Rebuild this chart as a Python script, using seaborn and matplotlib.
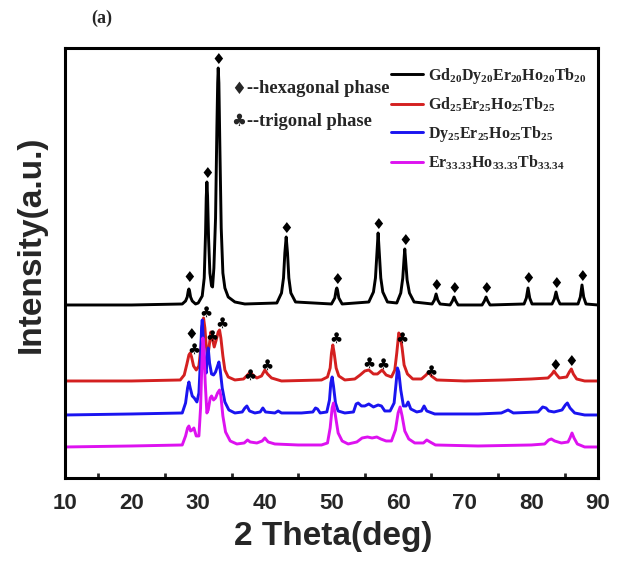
import pandas as pd
import matplotlib
matplotlib.use('Agg')
import matplotlib.pyplot as plt
import seaborn as sns

sns.set_style('white')
plt.rcParams['font.family'] = ['Liberation Sans', 'DejaVu Sans']
plt.rcParams['mathtext.fontset'] = 'custom'
plt.rcParams['mathtext.rm'] = 'Liberation Serif'
plt.rcParams['mathtext.bf'] = 'Liberation Serif:bold'

# XRD patterns: (2theta deg, intensity a.u. with stacking offset)
black_pts = [(10, 173), (20, 173), (27.6, 174), (28.1, 177), (28.35, 181), (28.5, 187), (28.6, 189),
             (28.7, 187), (28.85, 181), (29.1, 177), (29.6, 174), (30.0, 175), (30.6, 182), (30.9, 200),
             (31.1, 245), (31.2, 280), (31.3, 296), (31.4, 282), (31.55, 240), (31.75, 205), (32.0, 192),
             (32.15, 191), (32.35, 210), (32.6, 260), (32.8, 350), (32.92, 395), (33.0, 410), (33.1, 395),
             (33.25, 330), (33.45, 250), (33.7, 205), (34.0, 190), (34.5, 181), (35.5, 176), (37, 174),
             (41.8, 175), (42.5, 185), (42.8, 200), (43.0, 225), (43.2, 241), (43.4, 225), (43.6, 200),
             (43.9, 185), (44.6, 176), (50.0, 174), (50.5, 180), (50.7, 188), (50.8, 190), (50.9, 188),
             (51.1, 180), (51.6, 174), (55.6, 176), (56.3, 186), (56.6, 200), (56.85, 228), (57.0, 245),
             (57.15, 228), (57.4, 200), (57.7, 186), (58.4, 176), (59.8, 175), (60.4, 185), (60.7, 200),
             (60.9, 220), (61.0, 229), (61.1, 220), (61.35, 198), (61.7, 185), (62.4, 176), (65.1, 174),
             (65.45, 178), (65.7, 184), (65.95, 178), (66.3, 174), (67.8, 173), (68.15, 177), (68.4, 181),
             (68.65, 177), (69.0, 173), (72.6, 173), (72.95, 177), (73.2, 181), (73.45, 177), (73.8, 173),
             (78.9, 174), (79.25, 180), (79.5, 190), (79.75, 180), (80.1, 174), (83.1, 174), (83.45, 179),
             (83.7, 186), (83.95, 179), (84.3, 174), (87.0, 174), (87.35, 181), (87.6, 193), (87.85, 181),
             (88.2, 174), (90, 173)]

red_pts = [(10, 97), (20, 97), (27.3, 98), (27.9, 103), (28.3, 114), (28.6, 123), (28.8, 125), (29.0, 121),
           (29.3, 112), (29.7, 108), (30.1, 112), (30.4, 130), (30.6, 152), (30.8, 160), (31.0, 150),
           (31.2, 132), (31.45, 122), (31.7, 135), (31.9, 146), (32.1, 140), (32.4, 131), (32.7, 138),
           (33.0, 146), (33.2, 148), (33.4, 140), (33.7, 122), (34.0, 108), (34.5, 101), (35.5, 98),
           (36.8, 99), (37.4, 103), (37.8, 106), (38.2, 103), (38.8, 100), (39.5, 102), (40.0, 108),
           (40.4, 104), (41.0, 100), (42.5, 97), (48.5, 98), (49.4, 101), (49.8, 110), (50.0, 125),
           (50.2, 133), (50.4, 125), (50.7, 110), (51.1, 102), (52.0, 98), (53.5, 99), (54.3, 103),
           (55.0, 107), (55.6, 108), (56.3, 104), (56.9, 104), (57.6, 108), (58.2, 103), (59.0, 101),
           (59.5, 108), (59.8, 125), (60.1, 145), (60.3, 143), (60.6, 130), (60.9, 113), (61.4, 104),
           (62.2, 99), (63.5, 99), (64.2, 103), (64.6, 106), (65.0, 102), (65.8, 98), (70, 97), (76, 98),
           (80, 99), (82.5, 100), (83.1, 104), (83.4, 107), (83.7, 104), (84.2, 100), (85.3, 101),
           (85.7, 106), (86.0, 109), (86.3, 104), (86.8, 99), (88, 97), (90, 97)]

blue_pts = [(10, 63), (20, 64), (27.6, 65), (28.1, 75), (28.4, 90), (28.6, 96), (28.8, 90), (29.1, 82),
            (29.4, 80), (29.8, 76), (30.1, 85), (30.35, 120), (30.5, 150), (30.6, 158), (30.75, 140),
            (31.0, 110), (31.2, 105), (31.4, 125), (31.5, 130), (31.7, 115), (32.0, 104), (32.3, 103),
            (32.6, 106), (32.9, 112), (33.1, 116), (33.3, 108), (33.6, 90), (34.0, 76), (34.6, 68),
            (35.5, 65), (36.6, 66), (37.0, 70), (37.3, 72), (37.7, 67), (38.5, 65), (39.3, 66), (39.7, 70),
            (40.1, 66), (41.5, 65), (42.0, 67), (42.5, 65), (45.5, 65), (47.2, 66), (47.6, 70), (47.9, 69),
            (48.3, 65), (49.3, 66), (49.7, 78), (49.9, 95), (50.1, 101), (50.3, 92), (50.6, 75), (51.0, 67),
            (52.0, 65), (53.3, 66), (53.7, 74), (54.0, 75), (54.5, 72), (55.0, 72), (55.6, 74), (56.3, 71),
            (57.0, 73), (57.5, 72), (58.0, 67), (58.8, 67), (59.4, 75), (59.7, 95), (59.9, 110), (60.1, 106),
            (60.4, 88), (60.8, 72), (61.2, 72), (61.5, 76), (61.9, 69), (62.8, 66), (63.5, 67), (63.9, 72),
            (64.3, 67), (65.5, 64), (72, 64), (75.5, 65), (76.5, 68), (77.3, 65), (81.0, 66), (81.7, 71),
            (82.2, 70), (82.6, 67), (83.4, 66), (84.6, 68), (85.1, 73), (85.4, 75), (85.8, 70), (86.5, 65),
            (88, 63), (90, 63)]

magenta_pts = [(10, 31), (20, 32), (27.6, 33), (28.1, 42), (28.4, 50), (28.6, 52), (28.85, 47), (29.1, 48),
               (29.35, 50), (29.7, 42), (30.1, 42), (30.35, 70), (30.55, 115), (30.7, 140), (30.85, 130),
               (31.05, 95), (31.3, 65), (31.5, 68), (31.8, 80), (32.0, 82), (32.3, 78), (32.6, 80),
               (32.9, 85), (33.2, 88), (33.4, 82), (33.7, 62), (34.1, 46), (34.8, 37), (35.8, 34), (36.9, 35),
               (37.4, 38), (37.8, 36), (38.8, 35), (39.6, 37), (40.0, 40), (40.5, 36), (41.5, 34), (45, 33),
               (48.5, 33), (49.4, 35), (49.8, 50), (50.1, 70), (50.3, 75), (50.6, 62), (51.0, 45), (51.6, 37),
               (52.5, 34), (53.8, 36), (54.6, 40), (55.4, 41), (56.1, 40), (56.8, 41), (57.4, 39), (58.2, 37),
               (59.0, 37), (59.6, 48), (60.0, 65), (60.3, 71), (60.6, 62), (61.0, 47), (61.6, 39), (62.5, 35),
               (63.8, 35), (64.3, 38), (64.8, 36), (65.6, 33), (72, 32), (80, 33), (82.0, 34), (82.6, 38),
               (83.0, 39), (83.5, 37), (84.5, 35), (85.5, 36), (85.8, 40), (86.1, 45), (86.4, 40), (86.9, 34),
               (88, 31), (90, 31)]

series_labels = [r'$\mathbf{Gd_{20}Dy_{20}Er_{20}Ho_{20}Tb_{20}}$',
                 r'$\mathbf{Gd_{25}Er_{25}Ho_{25}Tb_{25}}$',
                 r'$\mathbf{Dy_{25}Er_{25}Ho_{25}Tb_{25}}$',
                 r'$\mathbf{Er_{33.33}Ho_{33.33}Tb_{33.34}}$']
series_colors = ['black', '#d42020', '#1a14f0', '#dd12f0']

# phase markers (2theta, intensity)
hex_x = [28.6, 31.3, 33.0, 43.2, 50.8, 57.0, 61.0, 65.7, 68.4, 73.2, 79.5, 83.7, 87.6, 29.0, 83.6, 86.0]
hex_y = [200, 304, 418, 249, 198, 253, 237, 192, 189, 189, 199, 194, 201, 143, 112, 116]
trig_x = [31.2, 29.3, 32.0, 33.6, 37.8, 40.3, 50.7, 55.6, 57.7, 60.6, 65.0]
trig_y = [166, 129, 142, 155, 103, 113, 140, 115, 114, 140, 107]

fig = plt.figure(figsize=(6.29, 5.62), dpi=100)
ax = fig.add_axes([0.1033, 0.1495, 0.8474, 0.7651])

for pts, lab, col in zip([black_pts, red_pts, blue_pts, magenta_pts], series_labels, series_colors):
    df = pd.DataFrame(pts, columns=['two_theta', 'intensity'])
    sns.lineplot(data=df, x='two_theta', y='intensity', color=col, linewidth=2.1,
                 label=lab, ax=ax, sort=False)

for x, y in zip(hex_x, hex_y):
    ax.text(x, y, '\u2666', ha='center', va='center', fontsize=11, family='DejaVu Sans', color='black')
for x, y in zip(trig_x, trig_y):
    ax.text(x, y, '\u2663', ha='center', va='center', fontsize=10.5, family='DejaVu Sans', color='black')

ax.set_xlim(10, 90)
ax.set_ylim(0, 430)
ax.set_xticks(range(10, 91, 10))
ax.set_xticks(range(15, 90, 10), minor=True)
ax.set_yticks([])
ax.tick_params(axis='x', which='major', direction='in', length=7, width=2, labelsize=16, pad=11)
ax.tick_params(axis='x', which='minor', direction='in', length=3.5, width=2, bottom=True)
for lab in ax.get_xticklabels():
    lab.set_fontweight('bold')
for sp in ax.spines.values():
    sp.set_linewidth(2.2)
    sp.set_color('black')

ax.set_xlabel('2 Theta(deg)', fontsize=24, fontweight='bold')
ax.xaxis.set_label_coords(0.503, -0.1)
ax.set_ylabel('Intensity(a.u.)', fontsize=24, fontweight='bold')
ax.yaxis.set_label_coords(-0.035, 0.544)

ax.legend(loc='upper left', bbox_to_anchor=(0.59, 0.985), frameon=False, fontsize=11.5,
          handlelength=2.0, handletextpad=0.35, labelspacing=0.62, borderaxespad=0.3)

# phase key
ax.text(0.325, 0.905, '\u2666', transform=ax.transAxes, fontsize=12, family='DejaVu Sans',
        ha='center', va='center')
ax.text(0.341, 0.905, '--hexagonal phase', transform=ax.transAxes, fontsize=13.3,
        family='Liberation Serif', fontweight='bold', ha='left', va='center')
ax.text(0.325, 0.83, '\u2663', transform=ax.transAxes, fontsize=12, family='DejaVu Sans',
        ha='center', va='center')
ax.text(0.341, 0.83, '--trigonal phase', transform=ax.transAxes, fontsize=13.3,
        family='Liberation Serif', fontweight='bold', ha='left', va='center')

fig.text(102 / 629, 1 - 18 / 562, '(a)', fontsize=13, family='Liberation Serif',
         fontweight='bold', ha='center', va='center')

fig.savefig('out.png', dpi=100)
